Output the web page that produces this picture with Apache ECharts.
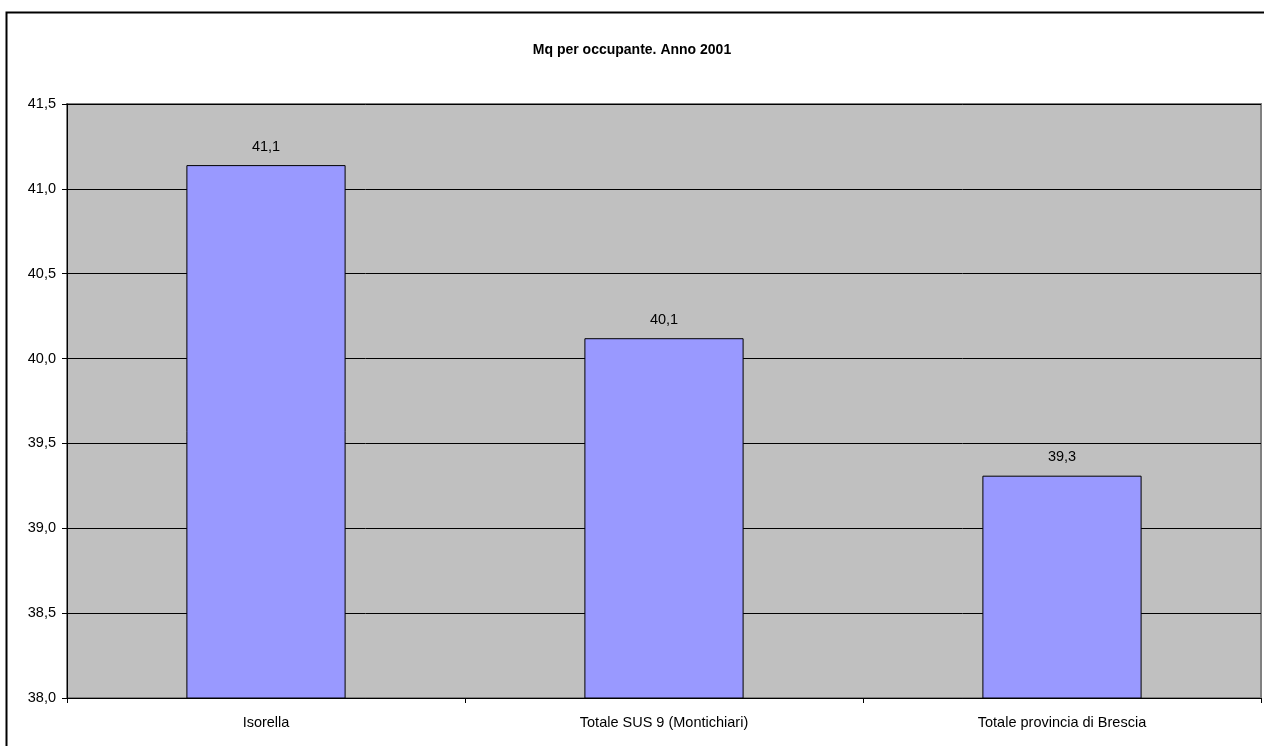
<!DOCTYPE html>
<html>
<head>
<meta charset="utf-8">
<script src="https://cdn.jsdelivr.net/npm/echarts@6/dist/echarts.min.js"></script>
<style>
html,body{margin:0;padding:0;background:#fff;}
#chart{width:1264px;height:746px;}
</style>
</head>
<body>
<div id="chart"></div>
<script>
const titleText = 'Mq per occupante. Anno 2001';
const categories = ['Isorella', 'Totale SUS 9 (Montichiari)', 'Totale provincia di Brescia'];
const values = [41.14, 40.12, 39.31];

const chart = echarts.init(document.getElementById('chart'), null, {renderer: 'canvas'});
const font = 'Liberation Sans, Arial, sans-serif';
const fmt = v => v.toFixed(1).replace('.', ',');

chart.setOption({
  animation: false,
  backgroundColor: '#ffffff',
  title: {
    text: titleText,
    left: 'center',
    top: 38,
    textStyle: {fontFamily: font, fontSize: 14, fontWeight: 'bold', color: '#000'}
  },
  graphic: [
    {type: 'rect', shape: {x: 6.5, y: 12.5, width: 1400, height: 900}, style: {fill: 'none', stroke: '#000', lineWidth: 2}, silent: true, z: 100}
  ],
  grid: {left: 67, right: 3, top: 104, bottom: 48, show: true, backgroundColor: '#C0C0C0', borderColor: '#808080', borderWidth: 2},
  xAxis: {
    type: 'category',
    data: categories,
    axisLine: {lineStyle: {color: '#000', width: 1}},
    axisTick: {show: true, alignWithLabel: false, length: 5, lineStyle: {color: '#000'}},
    axisLabel: {fontFamily: font, fontSize: 14.5, color: '#000', margin: 17}
  },
  yAxis: {
    type: 'value',
    min: 38, max: 41.5, interval: 0.5,
    axisLine: {show: true, lineStyle: {color: '#000', width: 1}},
    axisTick: {show: true, length: 5, lineStyle: {color: '#000'}},
    axisLabel: {fontFamily: font, fontSize: 14.5, color: '#000', margin: 11, formatter: v => fmt(v)},
    splitLine: {show: true, lineStyle: {color: '#000', width: 1}}
  },
  series: [{
    type: 'bar',
    data: values,
    barWidth: '40%',
    itemStyle: {color: '#9999FF', borderColor: '#000', borderWidth: 1},
    label: {show: true, position: 'top', distance: 11, fontFamily: font, fontSize: 14.5, color: '#000', formatter: p => fmt(p.value)}
  }]
});
</script>
</body>
</html>
